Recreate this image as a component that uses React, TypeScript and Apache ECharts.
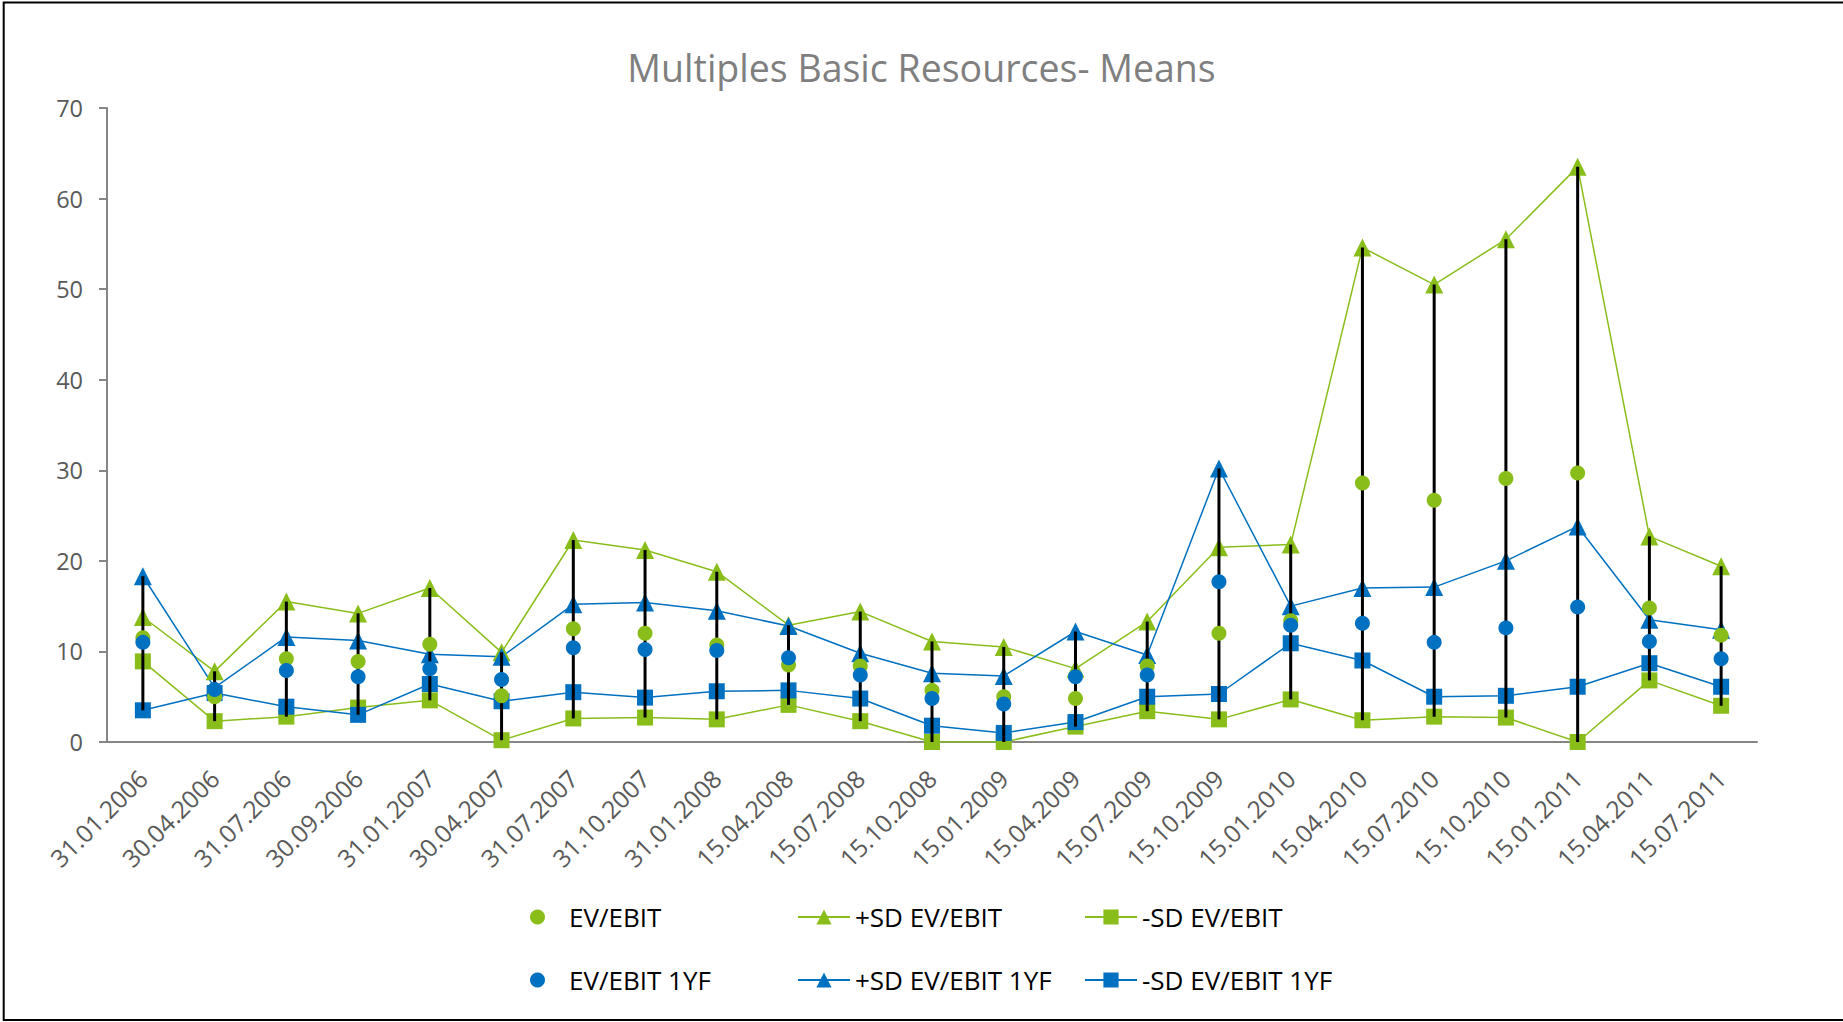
import React, { useEffect, useRef } from "react";
import * as echarts from "echarts";

const categories = [
  "31.01.2006", "30.04.2006", "31.07.2006", "30.09.2006", "31.01.2007", "30.04.2007",
  "31.07.2007", "31.10.2007", "31.01.2008", "15.04.2008", "15.07.2008", "15.10.2008",
  "15.01.2009", "15.04.2009", "15.07.2009", "15.10.2009", "15.01.2010", "15.04.2010",
  "15.07.2010", "15.10.2010", "15.01.2011", "15.04.2011", "15.07.2011",
];

const evEbit = [11.5, 5.0, 9.2, 8.9, 10.8, 5.1, 12.5, 12.0, 10.7, 8.5, 8.4, 5.7, 5.0, 4.8, 8.4, 12.0, 13.4, 28.6, 26.7, 29.1, 29.7, 14.8, 11.8];
const plusSdEvEbit = [13.8, 7.8, 15.5, 14.2, 17.0, 9.9, 22.3, 21.2, 18.8, 12.9, 14.4, 11.1, 10.5, 8.1, 13.3, 21.5, 21.8, 54.6, 50.5, 55.5, 63.5, 22.7, 19.4];
const minusSdEvEbit = [8.9, 2.3, 2.8, 3.8, 4.6, 0.2, 2.6, 2.7, 2.5, 4.1, 2.3, 0, 0, 1.7, 3.4, 2.5, 4.7, 2.4, 2.8, 2.7, 0, 6.8, 4.0];
const evEbit1yf = [11.0, 5.8, 7.9, 7.2, 8.1, 6.9, 10.4, 10.2, 10.1, 9.3, 7.4, 4.8, 4.2, 7.2, 7.4, 17.7, 12.9, 13.1, 11.0, 12.6, 14.9, 11.1, 9.2];
const plusSdEvEbit1yf = [18.3, 6.0, 11.6, 11.2, 9.7, 9.4, 15.2, 15.4, 14.5, 12.8, 9.8, 7.6, 7.3, 12.2, 9.6, 30.2, 15.0, 17.0, 17.1, 20.0, 23.8, 13.5, 12.4];
const minusSdEvEbit1yf = [3.5, 5.4, 3.9, 3.0, 6.4, 4.5, 5.5, 4.9, 5.6, 5.7, 4.8, 1.8, 1.0, 2.2, 5.0, 5.3, 10.9, 9.0, 5.0, 5.1, 6.1, 8.7, 6.1];

const yTicks = { min: 0, max: 70, interval: 10 };

const GREEN = "#89BE1A";
const BLUE = "#0070C0";
const FONT = "'Open Sans', sans-serif";

export default function App() {
  const ref = useRef<HTMLDivElement>(null);

  useEffect(() => {
    document.body.style.margin = "0";
    const chart = echarts.init(ref.current!, null, { renderer: "svg" });

    const all = [evEbit, plusSdEvEbit, minusSdEvEbit, evEbit1yf, plusSdEvEbit1yf, minusSdEvEbit1yf];
    const hiLo = categories.map((_, i) => {
      const vals = all.map((a) => a[i]);
      return [i, Math.max(...vals), Math.min(...vals)];
    });

    const legendBase = {
      selectedMode: false,
      textStyle: { fontSize: 26, fontFamily: FONT, color: "#000", lineHeight: 30 },
      padding: 0,
    };

    const lineSeries = (name: string, data: number[], color: string, symbol: string, size: number) => ({
      name,
      type: "line",
      data,
      symbol,
      symbolSize: size,
      showSymbol: true,
      itemStyle: { color },
      lineStyle: { color, width: 1.5 },
      z: 2,
    });

    const option: any = {
      animation: false,
      backgroundColor: "#fff",
      title: {
        text: "Multiples Basic Resources- Means",
        left: "center",
        top: 43,
        textStyle: { fontSize: 37.5, fontWeight: "normal", color: "#7F7F7F", fontFamily: FONT },
      },
      grid: { left: 107, top: 108, width: 1650, height: 634, containLabel: false },
      xAxis: {
        type: "category",
        data: categories,
        boundaryGap: true,
        axisLine: { lineStyle: { color: "#868686", width: 2 } },
        axisTick: { alignWithLabel: true, length: 7, lineStyle: { color: "#868686", width: 2 } },
        axisLabel: { rotate: 45, interval: 0, fontSize: 24.5, color: "#595959", fontFamily: FONT, margin: 32 },
        splitLine: { show: false },
      },
      yAxis: {
        type: "value",
        min: yTicks.min,
        max: yTicks.max,
        interval: yTicks.interval,
        axisLine: { show: true, lineStyle: { color: "#868686", width: 2 } },
        axisTick: { show: true, length: 8, lineStyle: { color: "#868686", width: 2 } },
        axisLabel: { fontSize: 23.5, color: "#595959", fontFamily: FONT, margin: 24 },
        splitLine: { show: false },
      },
      legend: [
        { ...legendBase, left: 530, top: 902, itemWidth: 15, itemHeight: 15, data: ["EV/EBIT"], textStyle: { ...legendBase.textStyle, padding: [0, 0, 0, 19] } },
        { ...legendBase, left: 797, top: 902, itemWidth: 52, itemHeight: 19, data: ["+SD EV/EBIT"] },
        { ...legendBase, left: 1084, top: 902, itemWidth: 52, itemHeight: 19, data: ["-SD EV/EBIT"] },
        { ...legendBase, left: 530, top: 965, itemWidth: 15, itemHeight: 15, data: ["EV/EBIT 1YF"], textStyle: { ...legendBase.textStyle, padding: [0, 0, 0, 19] } },
        { ...legendBase, left: 797, top: 965, itemWidth: 52, itemHeight: 19, data: ["+SD EV/EBIT 1YF"] },
        { ...legendBase, left: 1084, top: 965, itemWidth: 52, itemHeight: 19, data: ["-SD EV/EBIT 1YF"] },
      ],
      graphic: [
        {
          type: "rect",
          shape: { x: 3.7, y: 2.5, width: 1900, height: 1017.5 },
          style: { fill: "none", stroke: "#000", lineWidth: 2 },
          silent: true,
          z: 100,
        },
      ],
      series: [
        lineSeries("+SD EV/EBIT", plusSdEvEbit, GREEN, "triangle", 18),
        lineSeries("-SD EV/EBIT", minusSdEvEbit, GREEN, "rect", 16),
        lineSeries("+SD EV/EBIT 1YF", plusSdEvEbit1yf, BLUE, "triangle", 18),
        lineSeries("-SD EV/EBIT 1YF", minusSdEvEbit1yf, BLUE, "rect", 16),
        {
          name: "hilo",
          type: "custom",
          data: hiLo,
          z: 3,
          renderItem: (params: any, api: any) => {
            const x = api.value(0);
            const p1 = api.coord([x, api.value(1)]);
            const p2 = api.coord([x, api.value(2)]);
            return {
              type: "line",
              shape: { x1: p1[0], y1: p1[1], x2: p2[0], y2: p2[1] },
              style: { stroke: "#000", lineWidth: 3 },
            };
          },
        },
        {
          name: "EV/EBIT",
          type: "scatter",
          data: evEbit,
          symbol: "circle",
          symbolSize: 15,
          itemStyle: { color: GREEN, opacity: 1 },
          z: 4,
        },
        {
          name: "EV/EBIT 1YF",
          type: "scatter",
          data: evEbit1yf,
          symbol: "circle",
          symbolSize: 15,
          itemStyle: { color: BLUE, opacity: 1 },
          z: 5,
        },
      ],
    };

    chart.setOption(option);
    return () => chart.dispose();
  }, []);

  return <div ref={ref} style={{ width: 1843, height: 1022 }} />;
}
